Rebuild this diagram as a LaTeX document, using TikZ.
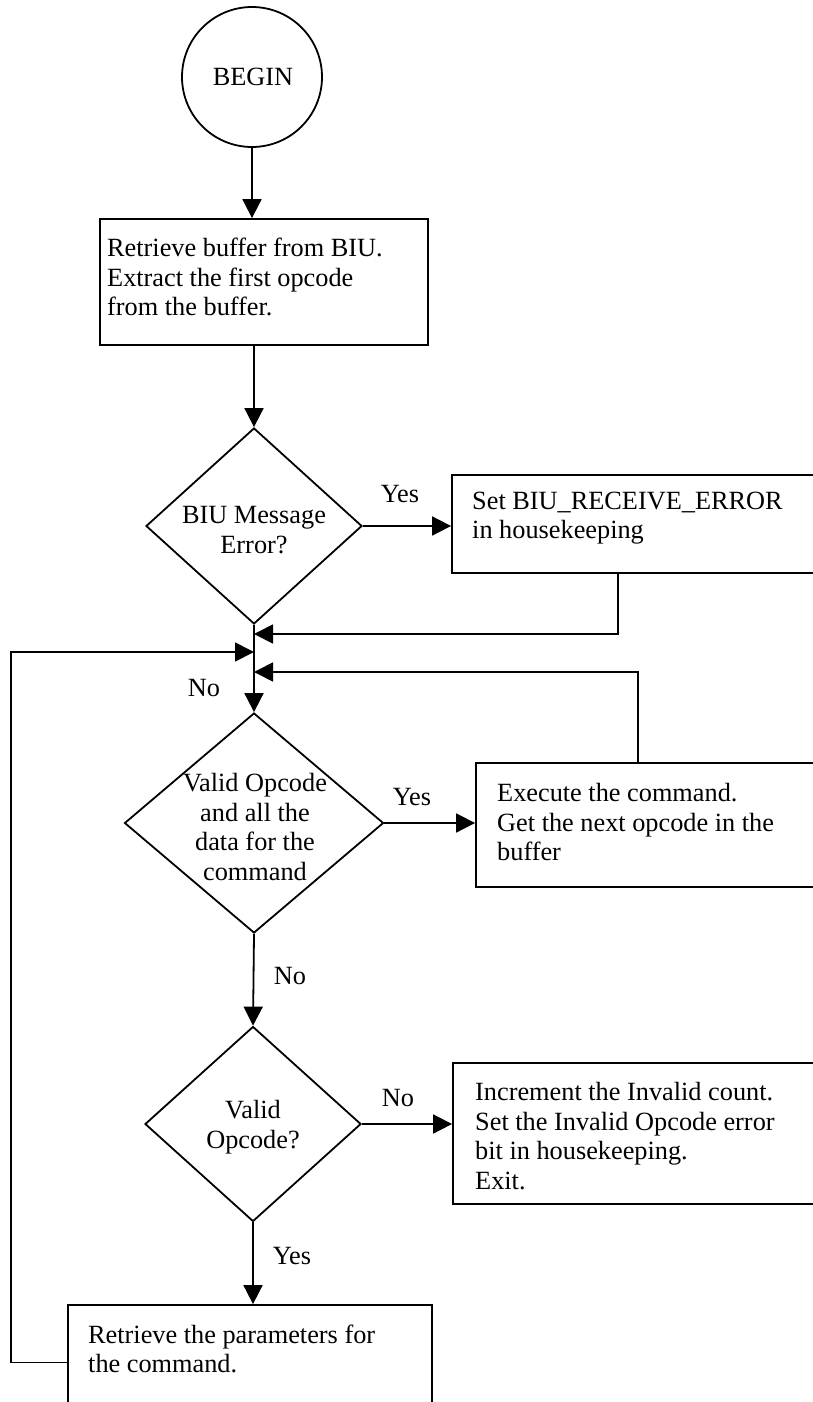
\documentclass[tikz,border=0pt]{standalone}
\usepackage{fontspec}
\setmainfont{Liberation Serif}
\usetikzlibrary{shapes.geometric,arrows.meta}
\begin{document}
\begin{tikzpicture}[x=1pt,y=-1pt,
  every node/.style={font=\fontsize{26.3}{29.6}\selectfont},
  flow/.style={line width=1.8pt},
  arr/.style={flow,-{Triangle[length=19pt,width=19pt]}},
  box/.style={draw,line width=1.8pt,rectangle,inner sep=0pt},
  decision/.style={draw,line width=1.8pt,diamond,inner sep=0pt},
  txt/.style={align=left,inner sep=0pt,anchor=west},
  ctxt/.style={align=center,inner sep=0pt},
  lbl/.style={inner sep=0pt}]
\path[use as bounding box] (0,0) rectangle (813,1402);
\clip (0,0) rectangle (813,1402);

% shapes
\node[draw,line width=1.8pt,circle,minimum size=140pt,inner sep=0pt] (begin) at (252,77) {};
\node[ctxt] (begint) at (253,77) {BEGIN};

\node[box,minimum width=328pt,minimum height=126pt] (retr) at (264,282) {};
\node[txt] (retrt) at (107,277) {Retrieve buffer from BIU.\\Extract the first opcode\\from the buffer.};

\node[decision,minimum width=216pt,minimum height=196pt] (d1) at (254,526) {};
\node[ctxt] (d1t) at (254,530) {BIU Message\\Error?};

\node[box,minimum width=378pt,minimum height=98pt] (setb) at (641,524) {};
\node[txt] (setbt) at (472,518) {Set BIU\_RECEIVE\_ERROR\\in housekeeping};

\node[decision,minimum width=259pt,minimum height=220pt] (d2) at (254,823) {};
\node[ctxt] (d2t) at (255,827) {Valid Opcode\\and all the\\data for the\\command};

\node[box,minimum width=354pt,minimum height=124pt] (exe) at (653,825) {};
\node[txt] (exet) at (497,822) {Execute the command.\\Get the next opcode in the\\buffer};

\node[decision,minimum width=216pt,minimum height=195pt] (d3) at (253,1124) {};
\node[ctxt] (d3t) at (253,1127) {Valid\\Opcode?};

\node[box,minimum width=377pt,minimum height=141pt] (inv) at (641.5,1133.5) {};
\node[txt] (invt) at (475,1136) {Increment the Invalid count.\\Set the Invalid Opcode error\\bit in housekeeping.\\Exit.};

\node[box,minimum width=364pt,minimum height=115pt] (parm) at (250,1362.5) {};
\node[txt] (parmt) at (88,1349) {Retrieve the parameters for\\the command.};

% merge points on the main line
\coordinate (m1) at (254,634);
\coordinate (m2) at (254,652);
\coordinate (m3) at (254,672);

% connectors
\draw[arr] (begin.south) -- (begin.south |- retr.north);
\draw[arr] (d1.north |- retr.south) -- (d1.north);
\draw[arr] (d1.east) -- (d1.east -| setb.west);
\draw[arr] (d1.south) -- (d2.north);
\draw[arr] ([xshift=-23pt]setb.south) |- (m1);
\draw[arr] (parm.west) -- ++(-56,0) |- (m2);
\draw[arr] ([xshift=-15pt]exe.north) |- (m3);
\draw[arr] (d2.east) -- (d2.east -| exe.west);
\draw[arr] (d2.south) -- (d3.north);
\draw[arr] (d3.east) -- (d3.east -| inv.west);
\draw[arr] (d3.south) -- (d3.south |- parm.north);

% branch labels
\node[lbl] (y1) at (400,494) {Yes};
\node[lbl] (n1) at (204,688) {No};
\node[lbl] (y2) at (412,797) {Yes};
\node[lbl] (n2) at (290,976) {No};
\node[lbl] (n3) at (398,1098) {No};
\node[lbl] (y3) at (292,1256) {Yes};
\end{tikzpicture}
\end{document}
